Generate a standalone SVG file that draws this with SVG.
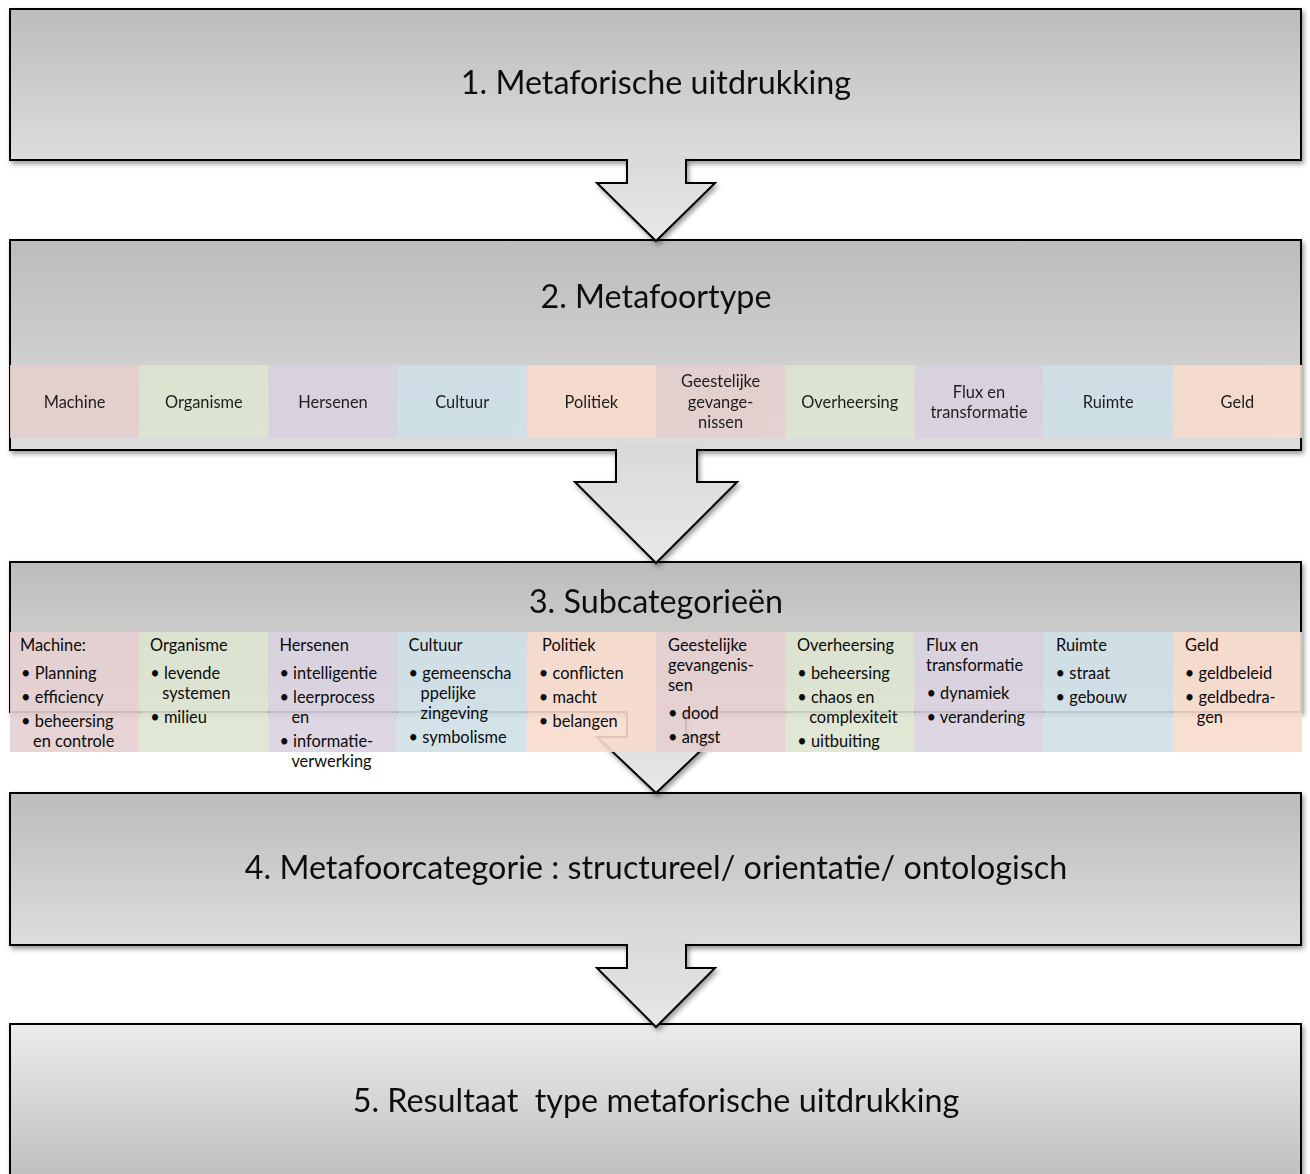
<svg xmlns="http://www.w3.org/2000/svg" width="1310" height="1174" viewBox="0 0 1310 1174">
<defs>
  <linearGradient id="gDark" x1="0" y1="0" x2="0" y2="1">
    <stop offset="0" stop-color="#bcbcbc"/>
    <stop offset="1" stop-color="#dddddd"/>
  </linearGradient>
  <linearGradient id="gLight" x1="0" y1="0" x2="0" y2="1">
    <stop offset="0" stop-color="#ececec"/>
    <stop offset="1" stop-color="#bdbdbd"/>
  </linearGradient>
  <linearGradient id="gArrow" x1="0" y1="0" x2="0" y2="1">
    <stop offset="0" stop-color="#dadada"/>
    <stop offset="1" stop-color="#e7e7e7"/>
  </linearGradient>
  <filter id="sh" x="-5%" y="-10%" width="110%" height="130%">
    <feDropShadow dx="2" dy="3" stdDeviation="2.5" flood-color="#000" flood-opacity="0.4"/>
  </filter>
  <style>
    .box { stroke: #000; stroke-width: 2; }
    .title { font-family: Lato, "Liberation Sans", sans-serif; font-size: 32.3px; fill: #111; text-anchor: middle; }
    .afill { fill: url(#gArrow); stroke: none; }
    .aline { fill: none; stroke: #000; stroke-width: 2; stroke-linejoin: miter; }
    .cell { opacity: 0.9; }
    .c1 { fill: #e6cfcf; }
    .c2 { fill: #dde5d0; }
    .c3 { fill: #d9d2e0; }
    .c4 { fill: #cfe0e8; }
    .c5 { fill: #f8dacd; }
    .t { font-family: Lato, "Liberation Sans", sans-serif; font-size: 16.4px; fill: #0a0a0a; }
    .tc { text-anchor: middle; }
  </style>
</defs>
<rect width="1310" height="1174" fill="#ffffff"/>

<!-- Boxes -->
<g id="box5" filter="url(#sh)">
  <rect class="box" x="10" y="1024" width="1291" height="160" fill="url(#gLight)"/>
  <text class="title" x="656" y="1112" xml:space="preserve">5. Resultaat  type metaforische uitdrukking</text>
</g>
<g id="box4" filter="url(#sh)">
  <rect class="box" x="10" y="793" width="1291" height="152" fill="url(#gDark)"/>
  <text class="title" x="656" y="879">4. Metafoorcategorie : structureel/ orientatie/ ontologisch</text>
</g>
<g id="box3" filter="url(#sh)">
  <rect class="box" x="10" y="562" width="1291" height="150" fill="url(#gDark)"/>
  <text class="title" x="656" y="613">3. Subcategorieën</text>
</g>
<g id="box2" filter="url(#sh)">
  <rect class="box" x="10" y="240" width="1291" height="210" fill="url(#gDark)"/>
  <text class="title" x="656" y="308">2. Metafoortype</text>
</g>
<g id="box1" filter="url(#sh)">
  <rect class="box" x="10" y="9" width="1291" height="151" fill="url(#gDark)"/>
  <text class="title" x="656" y="94">1. Metaforische uitdrukking</text>
</g>

<!-- Connectors -->
<g id="connectors">
  <g filter="url(#sh)">
    <path class="afill" d="M627,157.5 V183 H597 L656,241 L715,183 H686 V157.5 Z"/>
    <path class="aline" d="M627,159 V183 H597 L656,241 L715,183 H686 V159"/>
  </g>
  <g filter="url(#sh)">
    <path class="afill" d="M616,447.5 V482 H575 L656,563 L737,482 H697 V447.5 Z"/>
    <path class="aline" d="M616,449 V482 H575 L656,563 L737,482 H697 V449"/>
  </g>
  <g filter="url(#sh)">
    <path class="afill" d="M627,709.5 V737 H597 L656,793 L715,737 H686 V709.5 Z"/>
    <path class="aline" d="M627,711 V737 H597 L656,793 L715,737 H686 V711"/>
  </g>
  <g filter="url(#sh)">
    <path class="afill" d="M627,942.5 V968 H597 L656,1027 L715,968 H686 V942.5 Z"/>
    <path class="aline" d="M627,944 V968 H597 L656,1027 L715,968 H686 V944"/>
  </g>
</g>

<!-- Metafoortype row -->
<g id="types">
  <g id="type-machine" class="cell"><rect class="c1" x="10" y="365" width="129.2" height="73"/><text class="t tc" x="74.6" y="408">Machine</text></g>
  <g id="type-organisme" class="cell"><rect class="c2" x="139.2" y="365" width="129.2" height="73"/><text class="t tc" x="203.8" y="408">Organisme</text></g>
  <g id="type-hersenen" class="cell"><rect class="c3" x="268.4" y="365" width="129.2" height="73"/><text class="t tc" x="333" y="408">Hersenen</text></g>
  <g id="type-cultuur" class="cell"><rect class="c4" x="397.6" y="365" width="129.2" height="73"/><text class="t tc" x="462.2" y="408">Cultuur</text></g>
  <g id="type-politiek" class="cell"><rect class="c5" x="526.8" y="365" width="129.2" height="73"/><text class="t tc" x="591.4" y="408">Politiek</text></g>
  <g id="type-geestelijke" class="cell"><rect class="c1" x="656" y="365" width="129.2" height="73"/><text class="t tc" x="720.6" y="387">Geestelijke</text><text class="t tc" x="720.6" y="408">gevange-</text><text class="t tc" x="720.6" y="428">nissen</text></g>
  <g id="type-overheersing" class="cell"><rect class="c2" x="785.2" y="365" width="129.2" height="73"/><text class="t tc" x="849.8" y="408">Overheersing</text></g>
  <g id="type-flux" class="cell"><rect class="c3" x="914.4" y="365" width="129.2" height="73"/><text class="t tc" x="979" y="398">Flux en</text><text class="t tc" x="979" y="418">transformatie</text></g>
  <g id="type-ruimte" class="cell"><rect class="c4" x="1043.6" y="365" width="129.2" height="73"/><text class="t tc" x="1108.2" y="408">Ruimte</text></g>
  <g id="type-geld" class="cell"><rect class="c5" x="1172.8" y="365" width="129.2" height="73"/><text class="t tc" x="1237.4" y="408">Geld</text></g>
</g>

<!-- Subcategorieen row -->
<g id="subcats">
  <g id="sub-machine">
    <rect class="c1 cell" x="10" y="632" width="129.2" height="120"/>
    <text class="t" x="20" y="651">Machine:</text>
    <text class="t" x="21" y="679">• Planning</text>
    <text class="t" x="21" y="703">• efficiency</text>
    <text class="t" x="21" y="727">• beheersing</text>
    <text class="t" x="33" y="747">en controle</text>
  </g>
  <g id="sub-organisme">
    <rect class="c2 cell" x="139.2" y="632" width="129.2" height="120"/>
    <text class="t" x="150" y="651">Organisme</text>
    <text class="t" x="150.2" y="679">• levende</text>
    <text class="t" x="162.2" y="699">systemen</text>
    <text class="t" x="150.2" y="723">• milieu</text>
  </g>
  <g id="sub-hersenen">
    <rect class="c3 cell" x="268.4" y="632" width="129.2" height="120"/>
    <text class="t" x="279.4" y="651">Hersenen</text>
    <text class="t" x="279.4" y="679">• intelligentie</text>
    <text class="t" x="279.4" y="703">• leerprocess</text>
    <text class="t" x="291.4" y="723">en</text>
    <text class="t" x="279.4" y="747">• informatie-</text>
    <text class="t" x="291.4" y="767">verwerking</text>
  </g>
  <g id="sub-cultuur">
    <rect class="c4 cell" x="397.6" y="632" width="129.2" height="120"/>
    <text class="t" x="408.6" y="651">Cultuur</text>
    <text class="t" x="408.6" y="679">• gemeenscha</text>
    <text class="t" x="420.6" y="699">ppelijke</text>
    <text class="t" x="420.6" y="719">zingeving</text>
    <text class="t" x="408.6" y="743">• symbolisme</text>
  </g>
  <g id="sub-politiek">
    <rect class="c5 cell" x="526.8" y="632" width="129.2" height="120"/>
    <text class="t" x="542" y="651">Politiek</text>
    <text class="t" x="538.8" y="679">• conflicten</text>
    <text class="t" x="538.8" y="703">• macht</text>
    <text class="t" x="538.8" y="727">• belangen</text>
  </g>
  <g id="sub-geestelijke">
    <rect class="c1 cell" x="656" y="632" width="129.2" height="120"/>
    <text class="t" x="668" y="651">Geestelijke</text>
    <text class="t" x="668" y="671">gevangenis-</text>
    <text class="t" x="668" y="691">sen</text>
    <text class="t" x="668" y="719">• dood</text>
    <text class="t" x="668" y="743">• angst</text>
  </g>
  <g id="sub-overheersing">
    <rect class="c2 cell" x="785.2" y="632" width="129.2" height="120"/>
    <text class="t" x="797" y="651">Overheersing</text>
    <text class="t" x="797.2" y="679">• beheersing</text>
    <text class="t" x="797.2" y="703">• chaos en</text>
    <text class="t" x="809.2" y="723">complexiteit</text>
    <text class="t" x="797.2" y="747">• uitbuiting</text>
  </g>
  <g id="sub-flux">
    <rect class="c3 cell" x="914.4" y="632" width="129.2" height="120"/>
    <text class="t" x="926" y="651">Flux en</text>
    <text class="t" x="926" y="671">transformatie</text>
    <text class="t" x="926.4" y="699">• dynamiek</text>
    <text class="t" x="926.4" y="723">• verandering</text>
  </g>
  <g id="sub-ruimte">
    <rect class="c4 cell" x="1043.6" y="632" width="129.2" height="120"/>
    <text class="t" x="1056" y="651">Ruimte</text>
    <text class="t" x="1055.6" y="679">• straat</text>
    <text class="t" x="1055.6" y="703">• gebouw</text>
  </g>
  <g id="sub-geld">
    <rect class="c5 cell" x="1172.8" y="632" width="129.2" height="120"/>
    <text class="t" x="1185" y="651">Geld</text>
    <text class="t" x="1184.8" y="679">• geldbeleid</text>
    <text class="t" x="1184.8" y="703">• geldbedra-</text>
    <text class="t" x="1196.8" y="723">gen</text>
  </g>
</g>
</svg>
